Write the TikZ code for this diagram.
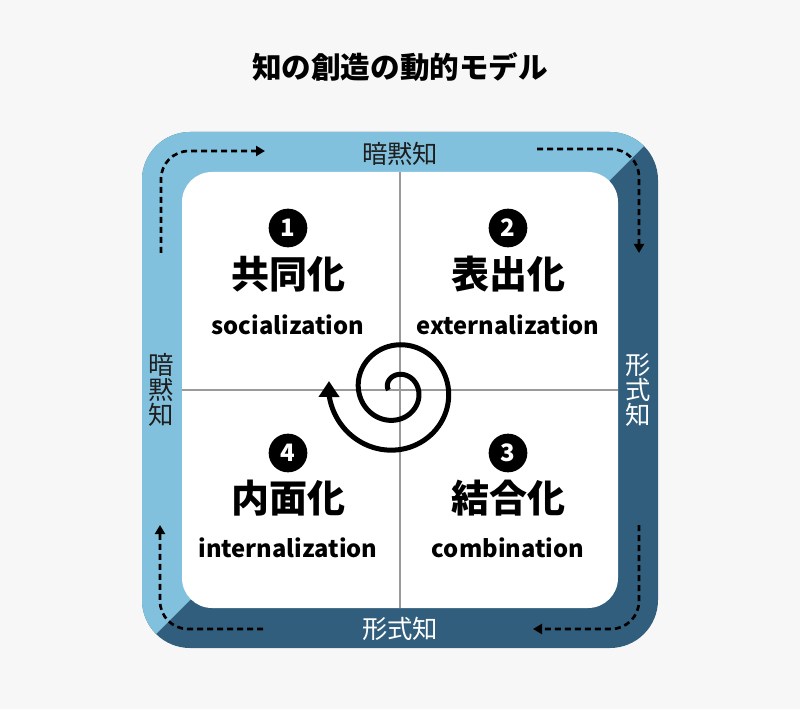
\documentclass[tikz,border=0pt]{standalone}
\usepackage{fontspec}
\setmainfont{Noto Sans CJK JP}
\usetikzlibrary{arrows.meta}
\definecolor{bgGray}{HTML}{F7F7F7}
\definecolor{tacitBlue}{HTML}{82C1DE}
\definecolor{explicitBlue}{HTML}{305E7C}
\definecolor{divGray}{HTML}{9A9A9A}
\definecolor{inkGray}{HTML}{1E1E1E}

\begin{document}
\begin{tikzpicture}[x=0.75pt, y=-0.75pt,
        title/.style={font=\fontsize{22.2}{26}\selectfont\bfseries, text=black},
        band/.style={inner sep=0pt, font=\fontsize{19}{18.5}\selectfont, text=inkGray},
        vband/.style={band, align=center},
        num/.style={circle, fill=black, text=white, minimum size=29pt, inner sep=0pt, font=\fontsize{18}{18}\selectfont\bfseries},
        mode/.style={font=\fontsize{28.5}{30}\selectfont\bfseries, text=black},
        term/.style={font=\fontsize{17.8}{20}\selectfont\bfseries, text=black},
        flow/.style={-{Triangle[length=6.75pt, width=7.5pt]}, line width=2pt, dash pattern=on 4.5pt off 3pt, rounded corners=21pt},
        spiral/.style={-{Triangle[length=12pt, width=15pt]}, line width=3.75pt}
    ]
        % Background
        \fill[bgGray] (0,0) rectangle (800,709);
        \useasboundingbox (0,0) rectangle (800,709);

        % Title
        \node[title] (title) at (400,67) {知の創造の動的モデル};

        % Outer band
        \fill[explicitBlue, rounded corners=36pt] (142,132) rectangle (658,648);
        \begin{scope}
            \clip (0,0) -- (790,0) -- (0,790) -- cycle;
            \fill[tacitBlue, rounded corners=36pt] (142,132) rectangle (658,648);
        \end{scope}
        \fill[white, rounded corners=22.5pt] (182,172) rectangle (618,608);

        % Dividers
        \draw[divGray, line width=1pt] (400,172) -- (400,608);
        \draw[divGray, line width=1pt] (182,390) -- (618,390);

        % Band labels
        \node[band] (topLbl) at (400,154) {暗黙知};
        \node[band, text=white] (botLbl) at (400,629) {形式知};
        \node[vband] (leftLbl) at (161,390) {暗\\黙\\知};
        \node[vband, text=white] (rightLbl) at (638,390) {形\\式\\知};

        % Flow arrows
        \coordinate (tlA) at (161,253);
        \coordinate (tlB) at (265,151);
        \coordinate (trA) at (537,149);
        \coordinate (trB) at (639,253);
        \coordinate (brA) at (639,525);
        \coordinate (brB) at (533,629);
        \coordinate (blA) at (263,629);
        \coordinate (blB) at (160,525);
        \draw[flow] (tlA) |- (tlB);
        \draw[flow] (trA) -| (trB);
        \draw[flow] (brA) |- (brB);
        \draw[flow] (blA) -| (blB);

        % Quadrant 1
        \node[num] (n1) at (288,228) {1};
        \node[mode] (soc) at (288,274) {共同化};
        \node[term] (socEn) at (288,325) {socialization};

        % Quadrant 2
        \node[num] (n2) at (508,228) {2};
        \node[mode] (ext) at (508,274) {表出化};
        \node[term] (extEn) at (508,325) {externalization};

        % Quadrant 3
        \node[num] (n3) at (508,453) {3};
        \node[mode] (com) at (508,498) {結合化};
        \node[term] (comEn) at (508,548) {combination};

        % Quadrant 4
        \node[num] (n4) at (288,453) {4};
        \node[mode] (int) at (288,498) {内面化};
        \node[term] (intEn) at (288,548) {internalization};

        % Spiral
        \coordinate (spTip) at (329,381);
        \draw[spiral] plot[domain=0:716, samples=180, smooth, variable=\t]
            ({396-(7.5+\t/12)*cos(\t)}, {390-(7.5+\t/12)*sin(\t)}) -- (spTip);
    \end{tikzpicture}
\end{document}
